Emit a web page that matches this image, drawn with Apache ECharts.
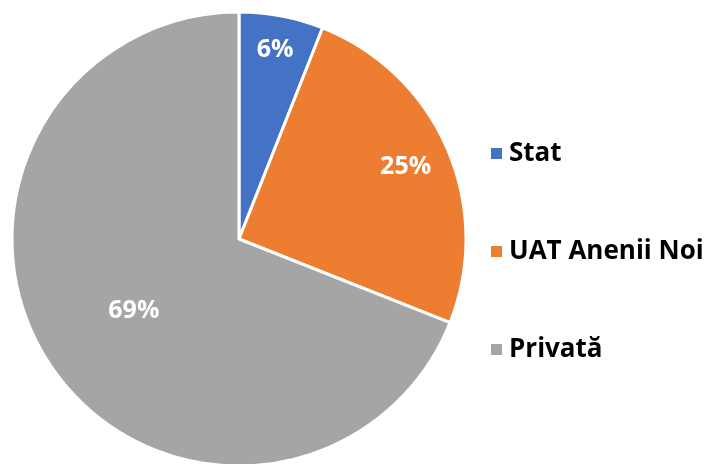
<!DOCTYPE html>
<html>
<head>
    <meta charset="utf-8">
    <title>pie</title>
    <style>
        body { margin: 0; background: #fff; }
    </style>
</head>
<body>
<div id="main" style="width: 713px;height:464px;"></div>

<script src="https://cdn.jsdelivr.net/npm/echarts@6/dist/echarts.min.js"></script>

<script type="text/javascript">
// date
var categories = ['Stat', 'UAT Anenii Noi', 'Privată'];
var values = [6, 25, 69];
var colors = ['#4472C4', '#ED7D31', '#A5A5A5'];
// unde stau etichetele pe raza (fractie din raza)
var labelRadius = [0.85, 0.80, 0.56];

var cx = 239, cy = 239, R = 227;
var total = values.reduce(function (a, b) { return a + b; }, 0);

var myChart = echarts.init(document.getElementById('main'));

var seriesData = [];
for (var i = 0; i < categories.length; i++) {
    seriesData.push({ name: categories[i], value: values[i], itemStyle: { color: colors[i] } });
}

var option = {
    animation: false,
    legend: {
        orient: 'vertical',
        left: 484,
        top: 134,
        itemWidth: 13,
        itemHeight: 13,
        itemGap: 69,
        icon: 'rect',
        textStyle: {
            fontFamily: 'Open Sans',
            fontWeight: 'bold',
            fontSize: 26,
            lineHeight: 29,
            color: '#000',
            padding: [0, 0, 0, 1]
        },
        data: categories
    },
    series: [{
        type: 'pie',
        center: [cx, cy],
        radius: [0, R],
        startAngle: 90,
        clockwise: true,
        itemStyle: { borderColor: '#fff', borderWidth: 3 },
        label: {
            show: true,
            position: 'inside',
            formatter: '{d}%',
            color: '#fff',
            fontFamily: 'Open Sans',
            fontWeight: 'bold',
            fontSize: 25
        },
        labelLayout: function (params) {
            var idx = params.dataIndex;
            var before = 0;
            for (var k = 0; k < idx; k++) before += values[k];
            var mid = (before + values[idx] / 2) / total * Math.PI * 2;
            var r = labelRadius[idx] * R;
            return {
                x: cx + r * Math.sin(mid),
                y: cy - r * Math.cos(mid),
                align: 'center',
                verticalAlign: 'middle'
            };
        },
        data: seriesData
    }]
};

myChart.setOption(option);
</script>
</body>
</html>
